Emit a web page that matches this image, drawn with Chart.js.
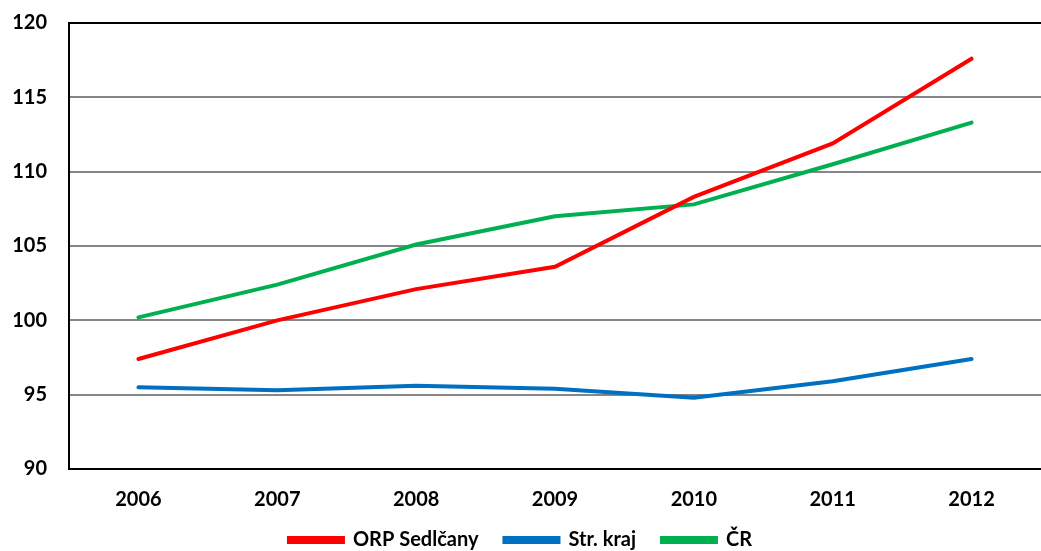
<!DOCTYPE html>
<html>
<head>
<meta charset="utf-8">
<script src="https://cdn.jsdelivr.net/npm/chart.js@4"></script>
<style>
  html, body { margin: 0; padding: 0; background: #fff; }
  #wrap { width: 1041px; height: 551px; }
</style>
</head>
<body>
<div id="wrap"><canvas id="chart" width="1041" height="551"></canvas></div>
<script>
const years = ['2006', '2007', '2008', '2009', '2010', '2011', '2012'];
const sedlcany = [97.4, 100.0, 102.1, 103.6, 108.3, 111.9, 117.6];
const strKraj = [95.5, 95.3, 95.6, 95.4, 94.8, 95.9, 97.4];
const cr = [100.2, 102.4, 105.1, 107.0, 107.8, 110.5, 113.3];
const yTicks = [90, 95, 100, 105, 110, 115, 120];

const font = { family: 'Lato, "Open Sans", sans-serif', size: 20, weight: 'bold' };

function series(label, data, color) {
    return {
        label: label,
        data: data,
        borderColor: color,
        backgroundColor: color,
        borderWidth: 4,
        pointRadius: 0,
        tension: 0,
        borderCapStyle: 'round'
    };
}

// legend padding also spaces items apart; pull the row back up
const legendShift = {
    id: 'legendShift',
    afterLayout(chart) {
        chart.legend.top -= 19;
        chart.legend.bottom -= 19;
    }
};

new Chart(document.getElementById('chart'), {
    type: 'line',
    data: {
        labels: years,
        datasets: [
            series('ORP Sedlčany', sedlcany, '#ff0000'),
            series('Str. kraj', strKraj, '#0070c0'),
            series('ČR', cr, '#00b050')
        ]
    },
    plugins: [legendShift],
    options: {
        responsive: false,
        animation: false,
        layout: { padding: { top: 23, right: 0, left: 0, bottom: -28 } },
        plugins: {
            legend: {
                position: 'bottom',
                labels: {
                    font: font,
                    color: '#000',
                    boxWidth: 54,
                    boxHeight: 4,
                    padding: 26
                }
            },
            tooltip: { enabled: false }
        },
        scales: {
            x: {
                offset: true,
                grid: { display: false },
                border: { display: true, color: '#000', width: 2 },
                ticks: { font: font, color: '#000', padding: 11 }
            },
            y: {
                min: 90,
                max: 120,
                afterBuildTicks: axis => { axis.ticks = yTicks.map(v => ({ value: v })); },
                afterFit: axis => {
                    axis.width = 69;
                    axis.paddingTop = 0;
                    axis.paddingBottom = 0;
                },
                grid: {
                    color: ctx => (ctx.tick && (ctx.tick.value === 120 || ctx.tick.value === 90)) ? '#000' : '#868686',
                    lineWidth: 2,
                    drawTicks: false
                },
                border: { display: true, color: '#000', width: 2 },
                ticks: { font: font, color: '#000', padding: 22 }
            }
        }
    }
});
</script>
</body>
</html>
